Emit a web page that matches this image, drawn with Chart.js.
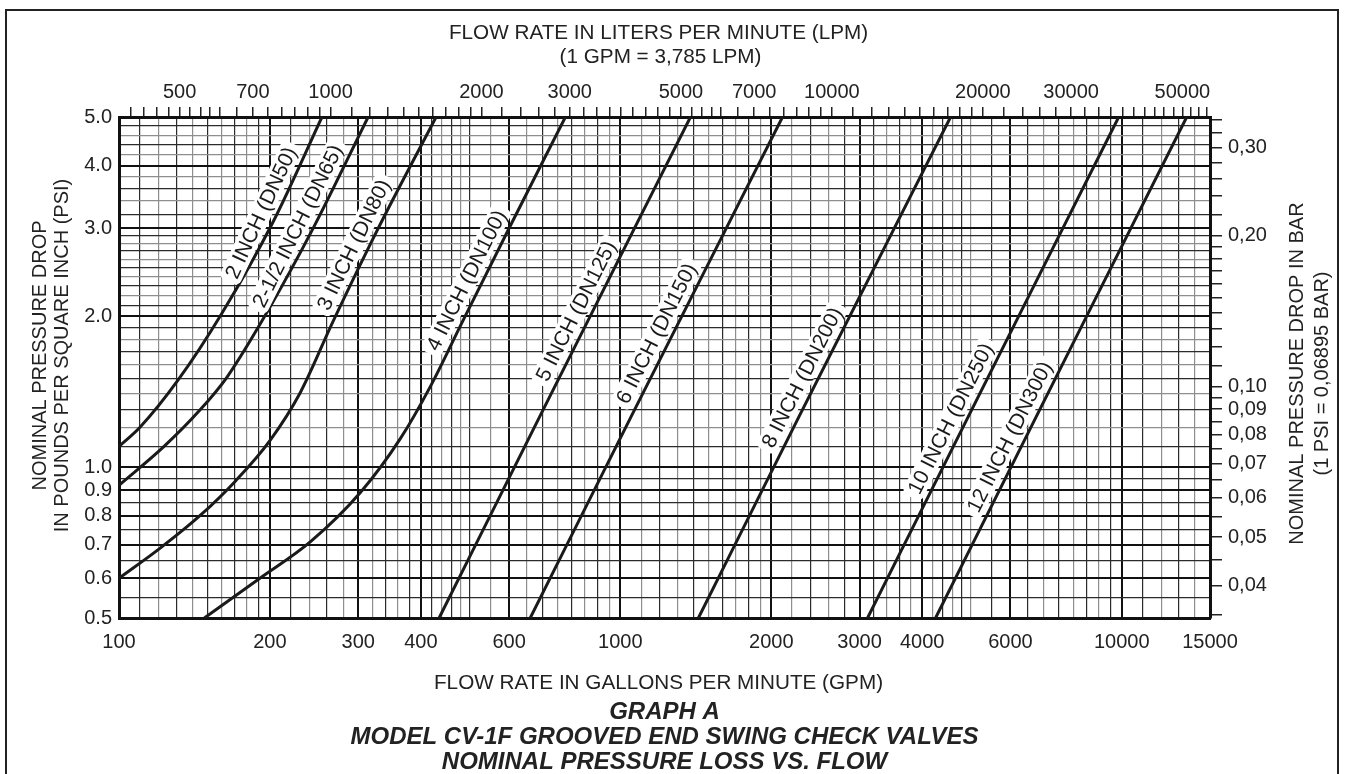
<!DOCTYPE html>
<html>
<head>
<meta charset="utf-8">
<script src="https://cdn.jsdelivr.net/npm/chart.js@4.4.1/dist/chart.umd.min.js"></script>
<style>
    html, body { margin: 0; padding: 0; background: #fff; }
    .wrap { position: relative; width: 1345px; height: 774px; overflow: hidden; }
    .frame { position: absolute; left: 5px; top: 9px; width: 1330px; height: 800px; border: 2px solid #222; border-bottom: none; }
    canvas { position: absolute; left: 0; top: 0; }
</style>
</head>
<body>
<div class="wrap">
    <div class="frame"></div>
    <canvas id="myChart" width="1345" height="774"></canvas>
</div>
<script>
// valve sizes, one curve each
const sizeNames = ['2 INCH (DN50)', '2-1/2 INCH (DN65)', '3 INCH (DN80)', '4 INCH (DN100)', '5 INCH (DN125)',
    '6 INCH (DN150)', '8 INCH (DN200)', '10 INCH (DN250)', '12 INCH (DN300)'];

// flow (GPM) / pressure drop (PSI)
const gpm2 = [100, 110, 131, 160, 203, 254];
const psi2 = [1.10, 1.20, 1.49, 2.02, 3.09, 5.0];
const gpm25 = [100, 123, 145, 164, 198, 244, 314];
const psi25 = [0.92, 1.10, 1.30, 1.51, 2.05, 3.0, 5.0];
const gpm3 = [100, 121, 145, 171, 200, 230, 267, 329, 429];
const psi3 = [0.60, 0.69, 0.80, 0.94, 1.13, 1.41, 1.95, 3.0, 5.0];
const gpm4 = [148, 191, 241, 303, 364, 418, 484, 603, 777];
const psi4 = [0.50, 0.60, 0.71, 0.89, 1.14, 1.45, 1.95, 3.03, 5.0];
const gpm5 = [435, 690, 1380];
const psi5 = [0.50, 1.26, 5.0];
const gpm6 = [661, 1050, 2106];
const psi6 = [0.50, 1.26, 5.0];
const gpm8 = [1431, 2270, 4557];
const psi8 = [0.50, 1.26, 5.0];
const gpm10 = [3112, 4940, 9863];
const psi10 = [0.50, 1.26, 5.0];
const gpm12 = [4253, 6750, 13480];
const psi12 = [0.50, 1.26, 5.0];

// PSI level where each size label sits along its curve
const labelPsi = [3.22, 3.03, 2.78, 2.36, 2.05, 1.85, 1.51, 1.25, 1.15];

// tick labels
const gpmLabels = [100, 200, 300, 400, 600, 1000, 2000, 3000, 4000, 6000, 10000, 15000];
const psiLabels = [0.5, 0.6, 0.7, 0.8, 0.9, 1.0, 2.0, 3.0, 4.0, 5.0];
const lpmLabels = [500, 700, 1000, 2000, 3000, 5000, 7000, 10000, 20000, 30000, 50000];
const barLabels = [0.04, 0.05, 0.06, 0.07, 0.08, 0.09, 0.10, 0.20, 0.30];

const GPM_TO_LPM = 3.785;
const PSI_TO_BAR = 0.06895;


function steps(from, to, step) {
    const out = [];
    for (let v = from; v <= to + step / 1000; v += step) out.push(+v.toFixed(4));
    return out;
}

function uniq(arr) {
    return [...new Set(arr)];
}

// graph paper lines
const gpmGrid = uniq([...steps(100, 200, 10), ...steps(200, 500, 20), ...steps(500, 1000, 50),
    ...steps(1000, 2000, 100), ...steps(2000, 5000, 200), ...steps(5000, 10000, 500), ...steps(10000, 15000, 1000)]);
const psiGrid = uniq([...steps(0.5, 1, 0.05), ...steps(1, 3, 0.1), ...steps(3, 5, 0.2)]);
const lpmTicks = uniq([...steps(400, 600, 25), ...steps(600, 1000, 50), ...steps(1000, 2000, 100),
    ...steps(2000, 4000, 200), ...steps(4000, 6000, 250), ...steps(6000, 10000, 500),
    ...steps(10000, 20000, 1000), ...steps(20000, 56000, 2000)]);
const barTicks = uniq([...steps(0.035, 0.1, 0.005), ...steps(0.1, 0.2, 0.01), ...steps(0.2, 0.34, 0.02)]);


function isLabel(list, v) {
    return list.some(l => Math.abs(l - v) / l < 1e-6);
}

function gridColor(labels) {
    return c => {
        if (!c.tick) return '#111';
        if (isLabel(labels, c.tick.value)) return '#111';
        return c.index % 2 ? '#2b2b2b' : '#8e8e8e';
    };
}

function gridWidth(labels) {
    return c => (c.tick && isLabel(labels, c.tick.value)) ? 2 : 1.2;
}

function toPoints(xs, ys) {
    return xs.map((x, i) => ({ x: x, y: ys[i] }));
}

const curves = [[gpm2, psi2], [gpm25, psi25], [gpm3, psi3], [gpm4, psi4], [gpm5, psi5],
    [gpm6, psi6], [gpm8, psi8], [gpm10, psi10], [gpm12, psi12]];

const FONT = "'Liberation Sans', Arial, Helvetica, sans-serif";
Chart.defaults.font.family = FONT;
Chart.defaults.color = '#222';


const graphTexts = {
    id: 'graphTexts',
    afterDatasetsDraw(chart) {
        const { ctx, scales } = chart;
        ctx.save();
        ctx.font = '21px ' + FONT;
        ctx.textAlign = 'center';
        ctx.textBaseline = 'middle';
        chart.data.datasets.forEach((ds, i) => {
            const pts = chart.getDatasetMeta(i).data;
            const yLev = scales.y.getPixelForValue(labelPsi[i]);
            for (let k = 0; k < pts.length - 1; k++) {
                const a = pts[k], b = pts[k + 1];
                if ((a.y - yLev) * (b.y - yLev) > 0) continue;
                const t = (yLev - a.y) / (b.y - a.y);
                const px = a.x + t * (b.x - a.x);
                const ang = Math.atan2(b.y - a.y, b.x - a.x);
                const off = 15;
                const s = off * Math.cos(ang) / Math.sin(ang);
                const w = ctx.measureText(ds.label).width;
                ctx.save();
                ctx.translate(px, yLev);
                ctx.rotate(ang);
                ctx.fillStyle = '#fff';
                ctx.beginPath();
                ctx.roundRect(s - w / 2 - 5, -off - 11, w + 10, 22, 6);
                ctx.fill();
                ctx.fillStyle = '#1a1a1a';
                ctx.fillText(ds.label, s, -off + 1);
                ctx.restore();
                break;
            }
        });
        ctx.restore();
    },
    afterDraw(chart) {
        const { ctx, chartArea } = chart;
        const cx = (chartArea.left + chartArea.right) / 2;
        const cy = (chartArea.top + chartArea.bottom) / 2;
        ctx.save();
        ctx.fillStyle = '#222';
        ctx.textAlign = 'center';
        ctx.textBaseline = 'middle';
        ctx.font = '20.7px ' + FONT;
        ctx.fillText('FLOW RATE IN LITERS PER MINUTE (LPM)', cx - 6, 33);
        ctx.fillText('(1 GPM = 3,785 LPM)', cx - 4, 57);
        ctx.fillText('FLOW RATE IN GALLONS PER MINUTE (GPM)', cx - 6, 683);

        ctx.font = 'italic bold 24px ' + FONT;
        ctx.fillText('GRAPH A', cx, 712);
        ctx.fillText('MODEL CV-1F GROOVED END SWING CHECK VALVES', cx, 737);
        ctx.fillText('NOMINAL PRESSURE LOSS VS. FLOW', cx, 762);

        ctx.font = '20px ' + FONT;
        ctx.save();
        ctx.translate(40, cy - 12);
        ctx.rotate(-Math.PI / 2);
        ctx.fillText('NOMINAL PRESSURE DROP', 0, 0);
        ctx.fillText('IN POUNDS PER SQUARE INCH (PSI)', 0, 22);
        ctx.restore();

        ctx.save();
        ctx.translate(1297, cy + 6);
        ctx.rotate(-Math.PI / 2);
        ctx.fillText('NOMINAL PRESSURE DROP IN BAR', 0, 0);
        ctx.fillText('(1 PSI = 0,06895 BAR)', 0, 25);
        ctx.restore();
        ctx.restore();
    }
};


const tickFont = { size: 20 };

new Chart(document.getElementById('myChart'), {
    type: 'line',
    data: {
        datasets: curves.map((c, i) => ({
            label: sizeNames[i],
            data: toPoints(c[0], c[1]),
            borderColor: '#1a1a1a',
            borderWidth: 3,
            pointRadius: 0,
            cubicInterpolationMode: 'monotone',
            xAxisID: 'x',
            yAxisID: 'y'
        }))
    },
    options: {
        responsive: false,
        animation: false,
        layout: { padding: 0 },
        plugins: {
            legend: { display: false },
            tooltip: { enabled: false }
        },
        scales: {
            x: {
                type: 'logarithmic',
                position: 'bottom',
                min: 100,
                max: 15000,
                afterBuildTicks: s => { s.ticks = gpmGrid.map(v => ({ value: v })); },
                afterFit: s => { s.height = 156; },
                ticks: {
                    autoSkip: false, maxRotation: 0, minRotation: 0, padding: 12, font: tickFont,
                    callback: v => isLabel(gpmLabels, v) ? String(v) : ''
                },
                grid: { drawTicks: false, color: gridColor(gpmLabels), lineWidth: gridWidth(gpmLabels) },
                border: { color: '#111', width: 3 }
            },
            xTop: {
                type: 'logarithmic',
                position: 'top',
                min: 100 * GPM_TO_LPM,
                max: 15000 * GPM_TO_LPM,
                afterBuildTicks: s => { s.ticks = lpmTicks.map(v => ({ value: v })); },
                afterFit: s => { s.height = 117; },
                ticks: {
                    autoSkip: false, maxRotation: 0, minRotation: 0, padding: 3, font: tickFont,
                    callback: v => isLabel(lpmLabels, v) ? String(v) : ''
                },
                grid: { drawOnChartArea: false, drawTicks: true, tickLength: 10, color: '#222', lineWidth: 1.5 },
                border: { color: '#111', width: 3 }
            },
            y: {
                type: 'logarithmic',
                position: 'left',
                min: 0.5,
                max: 5,
                afterBuildTicks: s => { s.ticks = psiGrid.map(v => ({ value: v })); },
                afterFit: s => { s.width = 119; },
                ticks: {
                    autoSkip: false, padding: 7, font: tickFont,
                    callback: v => isLabel(psiLabels, v) ? v.toFixed(1) : ''
                },
                grid: { drawTicks: false, color: gridColor(psiLabels), lineWidth: gridWidth(psiLabels) },
                border: { color: '#111', width: 3 }
            },
            yBar: {
                type: 'logarithmic',
                position: 'right',
                min: 0.5 * PSI_TO_BAR,
                max: 5 * PSI_TO_BAR,
                afterBuildTicks: s => { s.ticks = barTicks.map(v => ({ value: v })); },
                afterFit: s => { s.width = 135; },
                ticks: {
                    autoSkip: false, padding: 6, font: tickFont,
                    callback: v => isLabel(barLabels, v) ? v.toFixed(2).replace('.', ',') : ''
                },
                grid: { drawOnChartArea: false, drawTicks: true, tickLength: 12, color: '#222', lineWidth: 1.5 },
                border: { color: '#111', width: 3 }
            }
        }
    },
    plugins: [graphTexts]
});
</script>
</body>
</html>
